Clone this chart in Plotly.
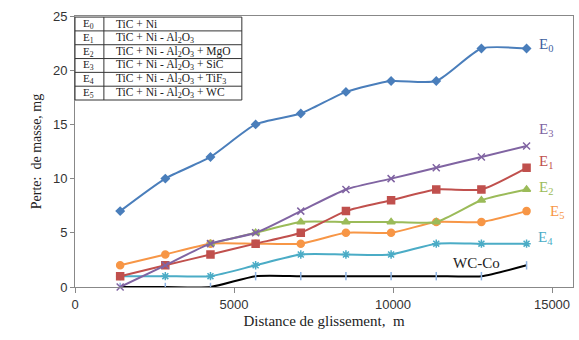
import plotly.graph_objects as go

distance = [1420, 2840, 4260, 5680, 7100, 8520, 9940, 11360, 12780, 14200]
e0 = [7, 10, 12, 15, 16, 18, 19, 19, 22, 22]
e3 = [0, 2, 4, 5, 7, 9, 10, 11, 12, 13]
e1 = [1, 2, 3, 4, 5, 7, 8, 9, 9, 11]
e2 = [None, None, 4, 5, 6, 6, 6, 6, 8, 9]
e5 = [2, 3, 4, 4, 4, 5, 5, 6, 6, 7]
e4 = [1, 1, 1, 2, 3, 3, 3, 4, 4, 4]
wcco = [0, 0, 0, 1, 1, 1, 1, 1, 1, 2]

legend_codes = ["E<sub>0</sub>", "E<sub>1</sub>", "E<sub>2</sub>", "E<sub>3</sub>", "E<sub>4</sub>", "E<sub>5</sub>"]
legend_texts = ["TiC + Ni",
                "TiC + Ni - Al<sub>2</sub>O<sub>3</sub>",
                "TiC + Ni - Al<sub>2</sub>O<sub>3</sub> + MgO",
                "TiC + Ni - Al<sub>2</sub>O<sub>3</sub> + SiC",
                "TiC + Ni - Al<sub>2</sub>O<sub>3</sub> + TiF<sub>3</sub>",
                "TiC + Ni - Al<sub>2</sub>O<sub>3</sub> + WC"]

series = [
    ("E0", e0, "#4A7EBB", "diamond", 6),
    ("WC-Co", wcco, "#000000", "line-ns", 6),
    ("E4", e4, "#4BACC6", "asterisk-open", 7),
    ("E5", e5, "#F79646", "circle", 7),
    ("E2", e2, "#9BBB59", "triangle-up", 7),
    ("E1", e1, "#C0504D", "square", 7),
    ("E3", e3, "#8064A2", "x-thin-open", 7),
]

fig = go.Figure()
for name, vals, color, sym, size in series:
    mcolor = "#8FB4E3" if name == "WC-Co" else color
    fig.add_trace(go.Scatter(
        x=distance, y=vals, mode="lines+markers", name=name,
        line=dict(color=color, width=2, shape="spline", smoothing=0.6),
        marker=dict(symbol=sym, size=size, color=mcolor,
                    line=dict(color=mcolor, width=1.5)),
        connectgaps=False, showlegend=False, cliponaxis=(name == "WC-Co"),
    ))

serif = "Liberation Serif"
labels = [
    ("E<sub>0</sub>", 14800, 22.3, "#3F5F9F"),
    ("E<sub>3</sub>", 14800, 14.5, "#8064A2"),
    ("E<sub>1</sub>", 14800, 11.5, "#C0504D"),
    ("E<sub>2</sub>", 14800, 9.1, "#9BBB59"),
    ("E<sub>5</sub>", 15150, 6.9, "#F79646"),
    ("E<sub>4</sub>", 14800, 4.5, "#4BACC6"),
    ("WC-Co", 12640, 2.2, "#222222"),
]
for txt, x, y, c in labels:
    fig.add_annotation(x=x, y=y, xref="x", yref="y", text=txt, showarrow=False,
                       font=dict(family=serif, size=15, color=c))

# legend table
tx0, tdiv, tx1 = 0.0, 0.058, 0.335
ttop, tbot = 0.996, 0.69
rh = (ttop - tbot) / len(legend_codes)
fig.add_shape(type="rect", xref="x domain", yref="y domain", x0=tx0, x1=tx1, y0=tbot, y1=ttop,
              line=dict(color="#333333", width=1), fillcolor="white", layer="above")
fig.add_shape(type="line", xref="x domain", yref="y domain", x0=tdiv, x1=tdiv, y0=tbot, y1=ttop,
              line=dict(color="#333333", width=1))
for i in range(1, len(legend_codes)):
    yy = ttop - i * rh
    fig.add_shape(type="line", xref="x domain", yref="y domain", x0=tx0, x1=tx1, y0=yy, y1=yy,
                  line=dict(color="#333333", width=1))
for i, (code, txt) in enumerate(zip(legend_codes, legend_texts)):
    yc = ttop - (i + 0.5) * rh
    fig.add_annotation(x=0.012, y=yc, xref="x domain", yref="y domain", text=code, showarrow=False,
                       xanchor="left", yanchor="middle", font=dict(family=serif, size=11, color="#222"))
    fig.add_annotation(x=tdiv + 0.02, y=yc, xref="x domain", yref="y domain", text=txt, showarrow=False,
                       xanchor="left", yanchor="middle", font=dict(family=serif, size=11.5, color="#222"))

fig.update_layout(
    width=579, height=340,
    margin=dict(l=75, r=6, t=16, b=53),
    plot_bgcolor="white", paper_bgcolor="white",
    font=dict(family="Liberation Sans", size=13, color="#333333"),
)
fig.update_xaxes(range=[0, 15660], tickvals=[0, 5000, 10000, 15000], ticktext=["0", "5000", "10000", "15000"],
                 showgrid=False, zeroline=False, showline=True, linecolor="#888888", linewidth=1, mirror=True,
                 ticks="outside", ticklen=5, tickcolor="#888888", automargin=False,
                 title=dict(text="Distance de glissement,  m", font=dict(family=serif, size=15, color="#222"), standoff=4))
fig.update_yaxes(range=[0, 25], tickvals=[0, 5, 10, 15, 20, 25],
                 showgrid=False, zeroline=False, showline=True, linecolor="#888888", linewidth=1, mirror=True,
                 ticks="outside", ticklen=4, tickcolor="#888888", automargin=False,
                 title=dict(text="Perte:  de masse, mg", font=dict(family=serif, size=14, color="#222"), standoff=8))

fig.write_html("out.html", config={"displayModeBar": False},
               post_script="document.body.style.margin='0';document.body.style.padding='0';")
